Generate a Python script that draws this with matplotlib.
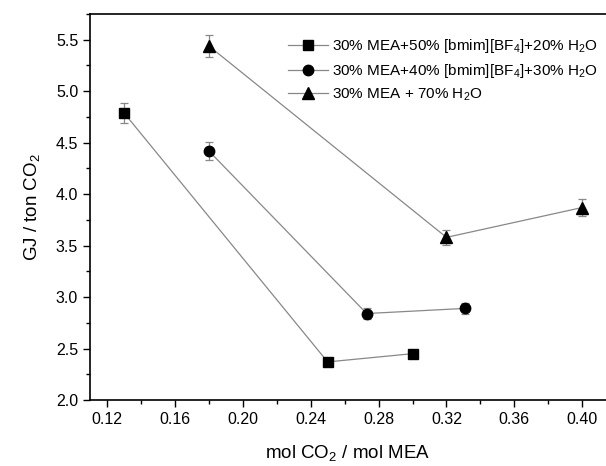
import matplotlib
matplotlib.use("Agg")
import matplotlib.pyplot as plt
from matplotlib.ticker import MultipleLocator, FormatStrFormatter

plt.rcParams["font.family"] = ["Liberation Sans", "DejaVu Sans"]
plt.rcParams["mathtext.fontset"] = "custom"
plt.rcParams["mathtext.rm"] = "Liberation Sans"
plt.rcParams["mathtext.it"] = "Liberation Sans:italic"

# data
x_il50 = [0.13, 0.25, 0.30]
y_il50 = [4.79, 2.37, 2.45]
e_il50 = [0.10, 0.04, 0.04]

x_il40 = [0.18, 0.273, 0.331]
y_il40 = [4.42, 2.84, 2.89]
e_il40 = [0.09, 0.05, 0.05]

x_mea = [0.18, 0.32, 0.40]
y_mea = [5.44, 3.58, 3.87]
e_mea = [0.11, 0.07, 0.08]

labels = [
    "30% MEA+50% [bmim][BF$_4$]+20% H$_2$O",
    "30% MEA+40% [bmim][BF$_4$]+30% H$_2$O",
    "30% MEA + 70% H$_2$O",
]

fig = plt.figure(figsize=(6.06, 4.66), dpi=100)
ax = fig.add_axes([90 / 606, 66 / 466, 1 - 90 / 606, (400 - 14) / 466])

series = [(x_il50, y_il50, e_il50, "s", 6.5), (x_il40, y_il40, e_il40, "o", 7.5), (x_mea, y_mea, e_mea, "^", 8.5)]
handles = []
for (xs, ys, es, m, ms), lab in zip(series, labels):
    c = ax.errorbar(xs, ys, yerr=es, fmt="-", color="#888888", lw=0.9, elinewidth=0.9,
                    capsize=3, capthick=0.9, marker=m, ms=ms, mfc="black", mec="black", label=lab)
    handles.append(c[0])

ax.set_xlim(0.11, 0.414)
ax.set_ylim(2.0, 5.75)
ax.xaxis.set_major_locator(MultipleLocator(0.04))
ax.xaxis.set_minor_locator(MultipleLocator(0.02))
ax.yaxis.set_major_locator(MultipleLocator(0.5))
ax.yaxis.set_minor_locator(MultipleLocator(0.25))
ax.xaxis.set_major_formatter(FormatStrFormatter("%.2f"))
ax.yaxis.set_major_formatter(FormatStrFormatter("%.1f"))
ax.tick_params(which="major", direction="out", length=5, width=1, labelsize=11.5, colors="black")
ax.tick_params(which="minor", direction="out", length=3, width=1)
ax.spines["right"].set_visible(False)
for s in ["left", "bottom", "top"]:
    ax.spines[s].set_linewidth(1.2)

ax.set_xlabel("mol CO$_2$ / mol MEA", fontsize=13.5, labelpad=12)
ax.set_ylabel("GJ / ton CO$_2$", fontsize=13.5, labelpad=10)

ax.legend(handles, labels, loc="upper left", bbox_to_anchor=(288 / 606, 1 - 37 / 466),
          bbox_transform=fig.transFigure, frameon=False, fontsize=11, handlelength=2.6,
          handletextpad=0.3, labelspacing=0.45, borderpad=0, borderaxespad=0)

fig.savefig("out.png", dpi=100)
